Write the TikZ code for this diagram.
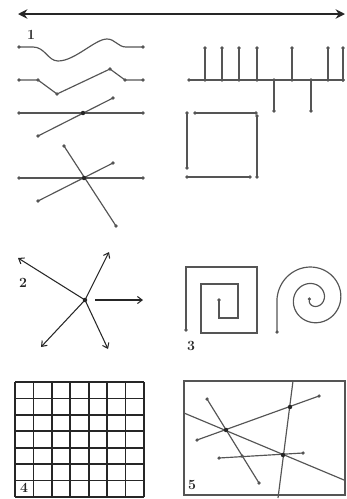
\documentclass[tikz,border=0pt]{standalone}
\usetikzlibrary{arrows.meta}
\definecolor{inkGray}{HTML}{555555}
\definecolor{inkDark}{HTML}{262626}

\begin{document}
\begin{tikzpicture}[x=0.03cm, y=-0.03cm,
    ln/.style={draw=inkGray, line width=1pt},
    grd/.style={draw=inkDark, line width=1.4pt},
    pt/.style={circle, fill=inkGray, inner sep=0pt, minimum size=3pt},
    bigpt/.style={circle, fill=inkDark, inner sep=0pt, minimum size=3.8pt},
    arr/.style={-{Straight Barb[length=4pt,width=6pt]}, draw=inkDark, line width=0.9pt},
    num/.style={font=\bfseries\large, text=inkDark}
  ]
    \useasboundingbox (0,0) rectangle (347,499);

    % top double arrow
    \coordinate (topL) at (18,14);
    \coordinate (topR) at (345,14);
    \draw[{Stealth[length=8pt,width=8pt]}-{Stealth[length=8pt,width=8pt]}, draw=inkDark, line width=1.5pt] (topL) -- (topR);

    % group 1, left column
    \node[num] (lab1) at (31,35) {1};
    \node[pt] (a1) at (19,47) {};
    \node[pt] (a2) at (143,47) {};
    \draw[ln] (a1.center) -- (33,47) .. controls (45,47) and (48,61) .. (58,61)
      .. controls (75,61) and (95,39) .. (107,39)
      .. controls (115,39) and (118,47) .. (126,47) -- (a2.center);

    \foreach \p [count=\i] in {(19,80),(38,80),(57,94),(110,69),(125,80),(143,80)}
      \node[pt] (b\i) at \p {};
    \draw[ln] (b1.center) -- (b2.center) -- (b3.center) -- (b4.center) -- (b5.center) -- (b6.center);

    \node[pt] (c1) at (19,113) {};
    \node[pt] (c2) at (143,113) {};
    \node[pt] (c3) at (38,136) {};
    \node[pt] (c4) at (113,98) {};
    \draw[ln] (c1.center) -- (c2.center);
    \draw[ln] (c3.center) -- (c4.center);
    \node[bigpt] (cx) at (83,113) {};

    \node[pt] (d1) at (19,178) {};
    \node[pt] (d2) at (143,178) {};
    \node[pt] (d3) at (38,201) {};
    \node[pt] (d4) at (113,163) {};
    \node[pt] (d5) at (64,146) {};
    \node[pt] (d6) at (116,226) {};
    \draw[ln] (d1.center) -- (d2.center);
    \draw[ln] (d3.center) -- (d4.center);
    \draw[ln] (d5.center) -- (d6.center);
    \node[bigpt] (dx) at (84,178) {};

    % group 1, right column
    \node[pt] (e1) at (189,80) {};
    \node[pt] (e2) at (343,80) {};
    \draw[ln] (e1.center) -- (e2.center);
    \foreach \x in {205,222,239,257,292,328,343} {
      \node[pt] (up\x) at (\x,80) {};
      \node[pt] (upt\x) at (\x,48) {};
      \draw[ln] (up\x.center) -- (upt\x.center);
    }
    \foreach \x in {274,311} {
      \node[pt] (dn\x) at (\x,80) {};
      \node[pt] (dnb\x) at (\x,111) {};
      \draw[ln] (dn\x.center) -- (dnb\x.center);
    }

    \node[pt] (s1) at (195,113) {};
    \node[pt] (s2) at (256,113) {};
    \node[pt] (s3) at (257,116) {};
    \node[pt] (s4) at (257,177) {};
    \node[pt] (s5) at (250,177) {};
    \node[pt] (s6) at (187,177) {};
    \node[pt] (s7) at (187,168) {};
    \node[pt] (s8) at (187,113) {};
    \draw[ln] (s1.center) -- (s2.center);
    \draw[ln] (s3.center) -- (s4.center);
    \draw[ln] (s5.center) -- (s6.center);
    \draw[ln] (s7.center) -- (s8.center);

    % group 2, star
    \node[num] (lab2) at (23,283) {2};
    \node[bigpt] (hub) at (85,300) {};
    \coordinate (hubR) at (95,300);
    \coordinate (rayA) at (18,258);
    \coordinate (rayB) at (109,252);
    \coordinate (rayC) at (143,300);
    \coordinate (rayD) at (108,349);
    \coordinate (rayE) at (41,347);
    \draw[arr] (hub.center) -- (rayA);
    \draw[arr] (hub.center) -- (rayB);
    \draw[arr] (hubR) -- (rayC);
    \draw[arr] (hub.center) -- (rayD);
    \draw[arr] (hub.center) -- (rayE);

    % group 3, spirals
    \node[num] (lab3) at (191,346) {3};
    \node[pt] (q1) at (186,330) {};
    \node[pt] (q2) at (219,300) {};
    \draw[ln] (q1.center) -- (186,267) -- (257,267) -- (257,333) -- (201,333)
      -- (201,284) -- (238,284) -- (238,318) -- (219,318) -- (q2.center);

    \node[pt] (r1) at (277,332) {};
    \node[pt] (r2) at (309.4,299) {};
    \draw[ln] (r1.center) -- (277,299)
      plot[domain=180:900, samples=220, smooth]
        ({313+(36-0.046*(\x-180))*cos(\x)}, {299+(36-0.046*(\x-180))*sin(\x)});

    % group 4, grid
    \foreach \i in {0,...,7} {
      \draw[grd] ({15+\i*129/7},382) -- ({15+\i*129/7},497);
      \draw[grd] (15,{382+\i*115/7}) -- (144,{382+\i*115/7});
    }
    \node[num, fill=white, inner sep=0.5pt] (lab4) at (24,488) {4};

    % group 5, lines in a frame
    \draw[ln] (184,381) rectangle (345,495);
    \node[num] (lab5) at (192,485) {5};
    \coordinate (fa1) at (184,413);
    \coordinate (fa2) at (344,480);
    \node[pt] (fb1) at (207,399) {};
    \node[pt] (fb2) at (259,483) {};
    \node[pt] (fc1) at (197,440) {};
    \node[pt] (fc2) at (319,396) {};
    \coordinate (fd1) at (293,381);
    \coordinate (fd2) at (278,498);
    \node[pt] (fe1) at (219,458) {};
    \node[pt] (fe2) at (303,453) {};
    \draw[ln] (fa1) -- (fa2);
    \draw[ln] (fb1.center) -- (fb2.center);
    \draw[ln] (fc1.center) -- (fc2.center);
    \draw[ln] (fd1) -- (fd2);
    \draw[ln] (fe1.center) -- (fe2.center);
    \node[bigpt] (x1) at (226,430) {};
    \node[bigpt] (x2) at (290,407) {};
    \node[bigpt] (x3) at (283,455) {};
    \node[pt] (x4) at (242,456) {};
  \end{tikzpicture}
\end{document}
